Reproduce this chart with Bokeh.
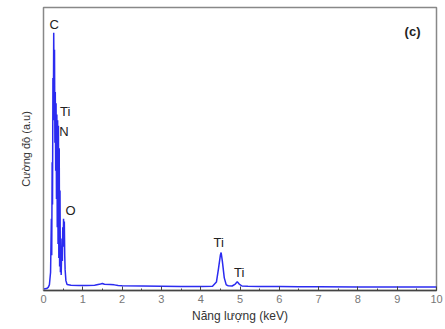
from bokeh.plotting import figure
from bokeh.models import Range1d, ColumnDataSource, FixedTicker, Label
from bokeh.embed import file_html
from bokeh.resources import INLINE

# EDS spectrum (energy keV, intensity a.u.)
energy = [0.00, 0.08, 0.12, 0.15, 0.18, 0.20, 0.21, 0.22, 0.23, 0.24, 0.25, 0.26,
          0.27, 0.28, 0.29, 0.30, 0.31, 0.32, 0.33, 0.34, 0.35, 0.36, 0.37, 0.38,
          0.39, 0.40, 0.41, 0.42, 0.43, 0.44, 0.45, 0.46, 0.47, 0.48, 0.49, 0.50,
          0.51, 0.52, 0.53, 0.54, 0.55, 0.57, 0.60, 0.70, 0.90, 1.10, 1.30, 1.45,
          1.50, 1.55, 1.70, 1.80, 1.90, 2.00, 2.50, 3.00, 3.50, 4.00, 4.30, 4.40,
          4.45, 4.50, 4.52, 4.55, 4.60, 4.65, 4.70, 4.80, 4.88, 4.93, 4.98, 5.05,
          5.20, 5.50, 6.00, 6.50, 7.00, 8.00, 9.00, 10.00]
intensity = [0.0, 0.2, 0.6, 1.5, 6, 25, 12, 45, 30, 75, 60, 91,
             72, 85, 52, 70, 42, 66, 32, 62, 22, 60, 16, 58,
             11, 50, 8, 35, 6, 15, 5, 12, 18, 10, 22, 15,
             25, 20, 24, 12, 7, 3, 1.6, 1.4, 1.3, 1.3, 1.4, 1.8,
             2.0, 1.7, 1.6, 1.5, 1.3, 1.2, 1.1, 1.0, 0.9, 0.9, 1.0, 2.5,
             7, 12, 13, 10, 4, 1.5, 1.2, 1.1, 1.8, 2.6, 1.8, 1.1,
             1.0, 0.9, 0.9, 0.8, 0.8, 0.7, 0.7, 0.7]

peak_labels = ["C", "Ti", "N", "O", "Ti", "Ti"]
peak_x = [0.27, 0.55, 0.52, 0.69, 4.46, 4.98]
peak_y = [94, 63, 56, 28, 16.5, 5.8]
panel_label = "(c)"
x_ticks = [0, 1, 2, 3, 4, 5, 6, 7, 8, 9, 10]

p = figure(width=445, height=329, output_backend="svg", toolbar_location=None,
           x_range=Range1d(0, 10), y_range=Range1d(-0.5, 100),
           min_border_left=43, min_border_right=9, min_border_top=7, min_border_bottom=39)
p.background_fill_color = "white"
p.border_fill_color = "white"
p.outline_line_color = "#888888"
p.outline_line_width = 1.5
p.grid.visible = False

src = ColumnDataSource(dict(x=energy, y=intensity))
p.line("x", "y", source=src, line_color="#2b2bf0", line_width=1.5)

for t, x, y in zip(peak_labels, peak_x, peak_y):
    p.add_layout(Label(x=x, y=y, text=t, text_align="center", text_baseline="middle",
                       text_font="Liberation Sans", text_font_size="13px",
                       text_color="#222222"))
p.add_layout(Label(x=9.39, y=91.5, text=panel_label, text_align="center",
                   text_baseline="middle", text_font="Liberation Sans",
                   text_font_size="13px", text_font_style="bold", text_color="#222222"))

xa = p.xaxis[0]
xa.ticker = FixedTicker(ticks=x_ticks, minor_ticks=[i * 0.5 for i in range(21)])
xa.axis_label = "Năng lượng (keV)"
xa.axis_label_text_font = "Liberation Sans"
xa.axis_label_text_font_size = "12px"
xa.axis_label_text_font_style = "normal"
xa.axis_label_text_color = "#333333"
xa.axis_label_standoff = 3
xa.major_label_text_font = "Liberation Sans"
xa.major_label_text_font_size = "11px"
xa.major_label_text_color = "#777777"
xa.major_label_standoff = 4
xa.major_tick_in = 4
xa.major_tick_out = 0
xa.minor_tick_in = 2
xa.minor_tick_out = 0
xa.axis_line_color = "#444444"
xa.axis_line_width = 1.5
xa.major_tick_line_color = "#444444"
xa.minor_tick_line_color = "#444444"

ya = p.yaxis[0]
ya.ticker = FixedTicker(ticks=[])
ya.axis_label = "Cường độ (a.u)"
ya.axis_label_text_font = "Liberation Sans"
ya.axis_label_text_font_size = "11px"
ya.axis_label_text_font_style = "normal"
ya.axis_label_text_color = "#333333"
ya.axis_label_standoff = 12
ya.major_tick_line_color = None
ya.minor_tick_line_color = None
ya.axis_line_color = "#888888"

open("out.html", "w").write(file_html(p, INLINE))
